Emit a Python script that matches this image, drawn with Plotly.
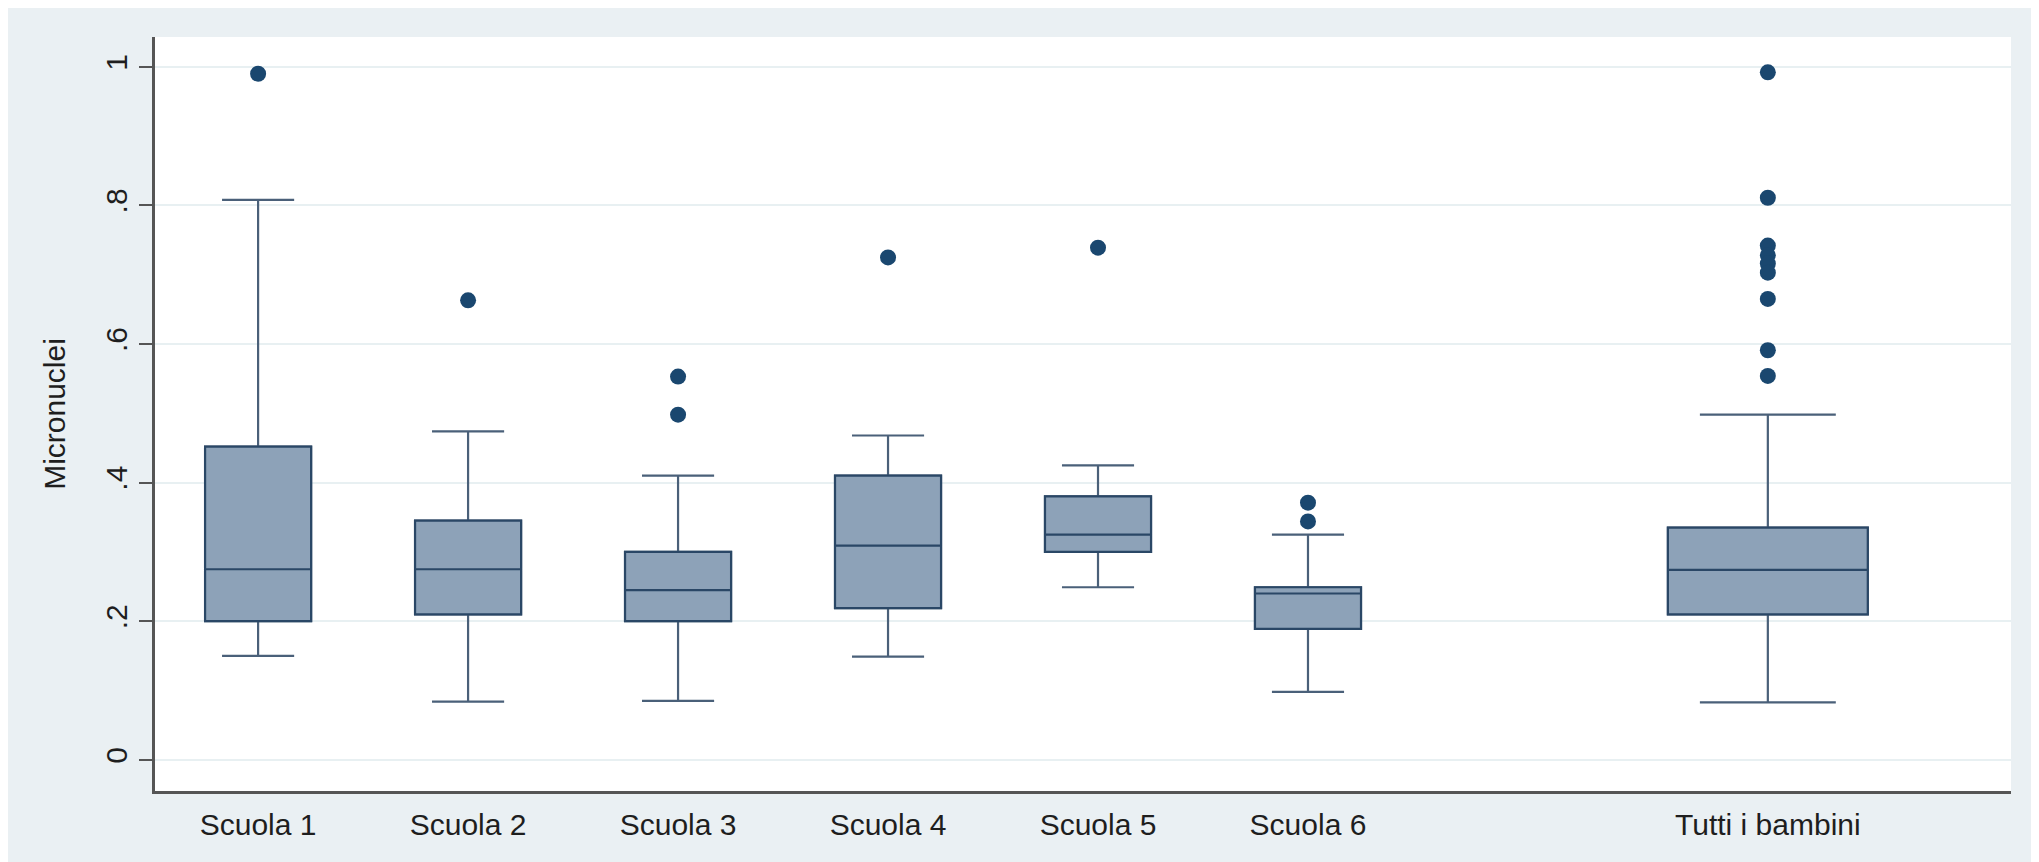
import plotly.graph_objects as go

# ---- data ----
categories = ["Scuola 1", "Scuola 2", "Scuola 3", "Scuola 4", "Scuola 5", "Scuola 6", "Tutti i bambini"]
positions = [1, 2, 3, 4, 5, 6, 8.19]
q1 = [0.200, 0.210, 0.200, 0.219, 0.300, 0.189, 0.210]
median = [0.275, 0.275, 0.245, 0.309, 0.325, 0.240, 0.274]
q3 = [0.452, 0.345, 0.300, 0.410, 0.380, 0.249, 0.335]
lower_whisker = [0.150, 0.084, 0.085, 0.149, 0.249, 0.098, 0.083]
upper_whisker = [0.808, 0.474, 0.410, 0.468, 0.425, 0.325, 0.498]
outliers = [
    [0.990],
    [0.663],
    [0.553, 0.498],
    [0.725],
    [0.739],
    [0.371, 0.344],
    [0.992, 0.811, 0.742, 0.728, 0.716, 0.703, 0.665, 0.591, 0.554],
]
box_widths = [0.505, 0.505, 0.505, 0.505, 0.505, 0.505, 0.952]
y_tickvals = [0, 0.2, 0.4, 0.6, 0.8, 1.0]
y_ticktext = ["0", ".2", ".4", ".6", ".8", "1"]

BG = "#EAF0F3"
FILL = "#8DA2B8"
LINE = "#2A4766"
WHISK = "#4A6079"
MARK = "#1A476F"
AXIS = "#555555"
GRID = "#E8F0F2"
FONT = "Liberation Sans, Arial, sans-serif"
TXT = "#1E1E1E"

fig = go.Figure()
for i, cat in enumerate(categories):
    # whiskers (lighter slate)
    fig.add_trace(go.Box(
        x=[positions[i]], q1=[q1[i]], median=[median[i]], q3=[q3[i]],
        lowerfence=[lower_whisker[i]], upperfence=[upper_whisker[i]],
        width=box_widths[i], whiskerwidth=0.68,
        fillcolor=FILL, line=dict(color=WHISK, width=2.2),
        boxpoints=False, showlegend=False, name=cat, hoverinfo="skip",
    ))
    # box body with darker outline
    fig.add_trace(go.Box(
        x=[positions[i]], q1=[q1[i]], median=[median[i]], q3=[q3[i]],
        lowerfence=[q1[i]], upperfence=[q3[i]],
        width=box_widths[i], whiskerwidth=0,
        fillcolor=FILL, line=dict(color=LINE, width=2.2),
        boxpoints=False, showlegend=False, name=cat, hoverinfo="skip",
    ))
    fig.add_trace(go.Scatter(
        x=[positions[i]] * len(outliers[i]), y=outliers[i], mode="markers",
        marker=dict(color=MARK, size=16, line=dict(width=0)),
        showlegend=False, hoverinfo="skip",
    ))

# page body adds an 8px white margin at top/left
W, H = 2031, 854
L, R, T, B = 147, 28, 29, 71
fig.update_layout(
    width=W, height=H,
    margin=dict(l=L, r=R, t=T, b=B, autoexpand=False),
    paper_bgcolor=BG, plot_bgcolor="white",
    font=dict(family=FONT, size=30, color=TXT),
    boxmode="overlay",
)
fig.update_xaxes(
    range=[0.509, 9.348], tickvals=positions, ticktext=categories,
    showgrid=False, zeroline=False, showline=True, linecolor=AXIS, linewidth=2.5,
    ticks="outside", ticklen=5, tickcolor="rgba(0,0,0,0)",
    tickfont=dict(size=30, family=FONT, color=TXT),
)
fig.update_yaxes(
    range=[-0.045, 1.043], tickvals=y_tickvals, ticktext=y_ticktext, tickangle=-90,
    showgrid=True, gridcolor=GRID, gridwidth=2, zeroline=False,
    showline=True, linecolor=AXIS, linewidth=2.5,
    ticks="outside", ticklen=13, tickwidth=1.5, tickcolor=AXIS,
    tickfont=dict(size=30, family=FONT, color=TXT),
    title=dict(text="Micronuclei", standoff=26, font=dict(size=30, family=FONT, color=TXT)),
)

fig.write_html("out.html")
